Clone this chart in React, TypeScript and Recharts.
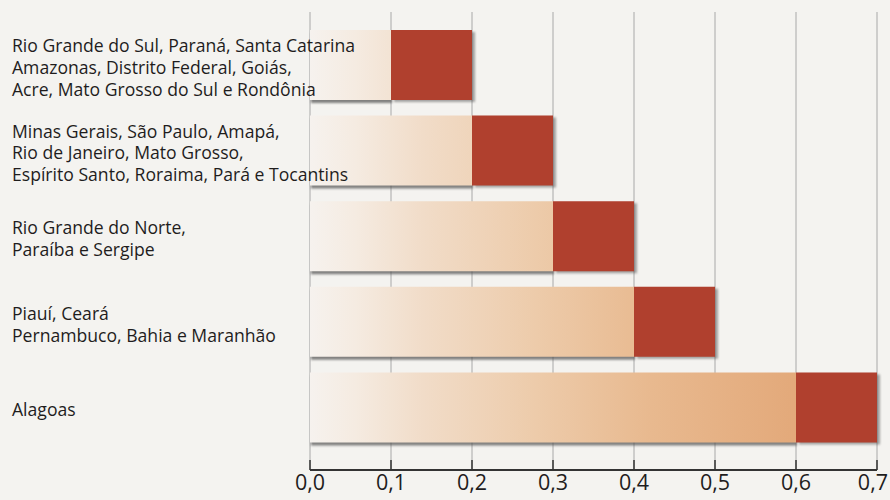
import React from 'react';
import { BarChart, Bar, XAxis, YAxis, CartesianGrid } from 'recharts';

const groups: string[][] = [
  ['Rio Grande do Sul, Paraná, Santa Catarina', 'Amazonas, Distrito Federal, Goiás,', 'Acre, Mato Grosso do Sul e Rondônia'],
  ['Minas Gerais, São Paulo, Amapá,', 'Rio de Janeiro, Mato Grosso,', 'Espírito Santo, Roraima, Pará e Tocantins'],
  ['Rio Grande do Norte,', 'Paraíba e Sergipe'],
  ['Piauí, Ceará', 'Pernambuco, Bahia e Maranhão'],
  ['Alagoas'],
];
const rangeStart: number[] = [0.1, 0.2, 0.3, 0.4, 0.6];
const rangeEnd: number[] = [0.2, 0.3, 0.4, 0.5, 0.7];
const xTicks: number[] = [0, 0.1, 0.2, 0.3, 0.4, 0.5, 0.6, 0.7];

const data = groups.map((g, i) => ({
  key: String(i),
  lines: g,
  base: rangeStart[i],
  span: Math.round((rangeEnd[i] - rangeStart[i]) * 1000) / 1000,
}));

const FONT = '"Open Sans", sans-serif';
const TEXT = '#1f1d1d';

const YTick = (props: any) => {
  const { y, payload } = props;
  const lines: string[] = groups[Number(payload.value)] || [];
  const lh = 21.8;
  const y0 = y + 2 - ((lines.length - 1) * lh) / 2;
  return (
    <text x={12} y={y0} fill={TEXT} fontFamily={FONT} fontSize={17.6} dominantBaseline="central">
      {lines.map((l, i) => (
        <tspan key={i} x={12} y={y0 + i * lh}>{l}</tspan>
      ))}
    </text>
  );
};

const XTick = (props: any) => {
  const { x, y, payload, index } = props;
  const label = payload.value.toFixed(1).replace('.', ',');
  const last = index === xTicks.length - 1;
  return (
    <g>
      <line x1={x} x2={x} y1={y - 12} y2={y - 22} stroke="#333" strokeWidth={1.5} />
      <text
        x={last ? x + 11 : x}
        y={y + 8}
        textAnchor={last ? 'end' : 'middle'}
        fill={TEXT}
        fontFamily={FONT}
        fontSize={21.5}
      >
        {label}
      </text>
    </g>
  );
};

export default function App() {
  return (
    <div style={{ position: 'absolute', left: 0, top: 0, width: 890, height: 500, background: '#f4f3f0' }}>
      <BarChart
        width={890}
        height={500}
        data={data}
        layout="vertical"
        margin={{ top: 12, right: 13, bottom: 0, left: 0 }}
        barCategoryGap={0}
      >
        <defs>
          <linearGradient id="beige" gradientUnits="userSpaceOnUse" x1={310} y1={0} x2={877} y2={0}>
            <stop offset="0%" stopColor="#f6f2ee" />
            <stop offset="8%" stopColor="#f5ebe1" />
            <stop offset="20%" stopColor="#f1dcc8" />
            <stop offset="40%" stopColor="#edcbaa" />
            <stop offset="60%" stopColor="#e8b98f" />
            <stop offset="86%" stopColor="#e3a97a" />
            <stop offset="100%" stopColor="#e0a372" />
          </linearGradient>
        </defs>
        <CartesianGrid horizontal={false} vertical stroke="#a8a8a8" strokeWidth={1} />
        <XAxis
          type="number"
          domain={[0, 0.7]}
          ticks={xTicks}
          interval={0}
          height={30}
          axisLine={{ stroke: '#333', strokeWidth: 2 }}
          tickLine={false}
          tickSize={0}
          tickMargin={12}
          tick={<XTick />}
        />
        <YAxis
          type="category"
          dataKey="key"
          width={310}
          axisLine={false}
          tickLine={false}
          tick={<YTick />}
          padding={{ top: 10, bottom: 20 }}
        />
        <Bar
          dataKey="base"
          stackId="a"
          fill="url(#beige)"
          barSize={70}
          isAnimationActive={false}
          style={{ filter: 'drop-shadow(1px 3px 0.8px rgba(80,80,80,0.7))' }}
        />
        <Bar
          dataKey="span"
          stackId="a"
          fill="#b0402e"
          barSize={70}
          isAnimationActive={false}
          style={{ filter: 'drop-shadow(3px 2px 1px rgba(80,80,80,0.5))' }}
        />
      </BarChart>
    </div>
  );
}
